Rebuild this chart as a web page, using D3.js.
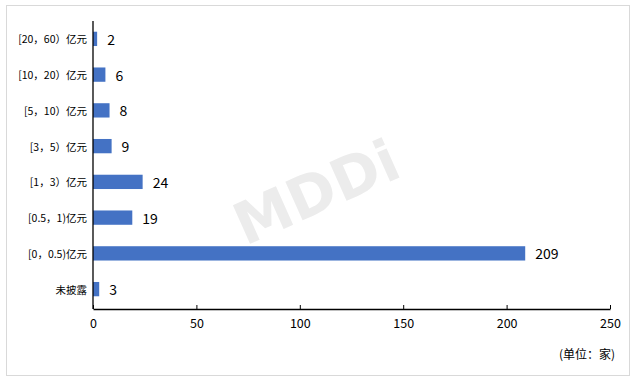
<!DOCTYPE html>
<html><head><meta charset="utf-8">
<script src="https://cdn.jsdelivr.net/npm/d3@7"></script>
<style>body{margin:0;background:#fff;}svg{display:block;}</style>
</head><body>
<svg id="c" width="632" height="384"></svg>
<script>
const categories = ["[20，60）亿元","[10，20）亿元","[5，10）亿元","[3，5）亿元","[1，3）亿元","[0.5，1)亿元","[0，0.5)亿元","未披露"];
const values = [2, 6, 8, 9, 24, 19, 209, 3];
const xTicks = [0, 50, 100, 150, 200, 250];
const unitLabel = "(单位：家)";
const watermark = "MDDi";

const svg = d3.select("#c");
const font = "'Microsoft YaHei','Noto Sans CJK SC','DejaVu Sans',sans-serif";
svg.append("rect").attr("x",6.5).attr("y",5.5).attr("width",623).attr("height",370)
  .attr("fill","#fff").attr("stroke","#d9d9d9").attr("stroke-width",1);

// watermark
svg.append("text").attr("transform","translate(318,196) rotate(-24)")
  .attr("text-anchor","middle").attr("dominant-baseline","middle")
  .attr("font-family","'DejaVu Sans',sans-serif").attr("font-weight","bold")
  .attr("font-size",58).attr("fill","#ececec").text(watermark);

const x = d3.scaleLinear().domain([0,250]).range([93,610]);
const y = d3.scaleBand().domain(categories).range([21,307]).paddingInner(0.6).paddingOuter(0.3);

svg.append("g").selectAll("rect").data(values).join("rect")
  .attr("x", x(0)).attr("y",(d,i)=>y(categories[i]))
  .attr("width", d=>x(d)-x(0)).attr("height", y.bandwidth())
  .attr("fill","#4472c4");

svg.append("g").selectAll("text").data(values).join("text")
  .attr("x", d=>x(d)+10).attr("y",(d,i)=>y(categories[i])+y.bandwidth()/2)
  .attr("dominant-baseline","central").attr("font-family",font).attr("font-size",14)
  .attr("fill","#000").text(d=>d);

// category labels
svg.append("g").selectAll("text").data(categories).join("text")
  .attr("x", 87).attr("y", d=>y(d)+y.bandwidth()/2)
  .attr("text-anchor","end").attr("dominant-baseline","central")
  .attr("font-family",font).attr("font-size",10.5).attr("fill","#000").text(d=>d);

// y axis line
svg.append("line").attr("x1",x(0)).attr("x2",x(0)).attr("y1",21).attr("y2",309)
  .attr("stroke","#000").attr("stroke-width",1.3);

// x axis
const xAxis = d3.axisBottom(x).tickValues(xTicks).tickSize(-4).tickSizeOuter(0).tickPadding(10);
const gx = svg.append("g").attr("transform","translate(0,309)").call(xAxis);
gx.select(".domain").attr("stroke","#000").attr("stroke-width",1.3);
gx.selectAll(".tick line").attr("stroke","#000");
gx.selectAll("text").attr("font-family",font).attr("font-size",12.5).attr("fill","#000");

svg.append("text").attr("x",615).attr("y",353).attr("text-anchor","end")
  .attr("dominant-baseline","central").attr("font-family",font).attr("font-size",12)
  .attr("fill","#000").text(unitLabel);
</script>
</body></html>
